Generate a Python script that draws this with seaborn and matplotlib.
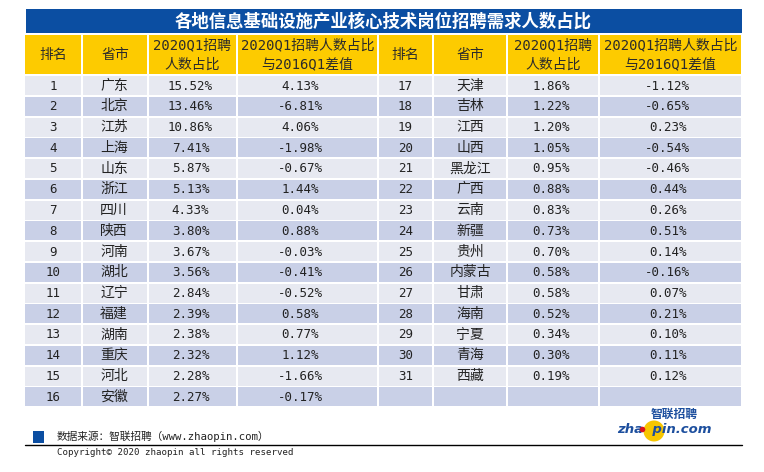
import matplotlib
matplotlib.use("Agg")
import matplotlib.pyplot as plt
from matplotlib.patches import Rectangle, Circle
import seaborn as sns

sns.set_theme(style="white")
plt.rcParams['font.family'] = ['DejaVu Sans', 'Noto Sans CJK SC']

# ---------------- data ----------------
title = "各地信息基础设施产业核心技术岗位招聘需求人数占比"
headers = ["排名", "省市", "2020Q1招聘\n人数占比", "2020Q1招聘人数占比\n与2016Q1差值"]
ranks = list(range(1, 32))
provinces = ["广东", "北京", "江苏", "上海", "山东", "浙江", "四川", "陕西", "河南", "湖北",
             "辽宁", "福建", "湖南", "重庆", "河北", "安徽",
             "天津", "吉林", "江西", "山西", "黑龙江", "广西", "云南", "新疆", "贵州", "内蒙古",
             "甘肃", "海南", "宁夏", "青海", "西藏"]
share_2020q1 = [15.52, 13.46, 10.86, 7.41, 5.87, 5.13, 4.33, 3.80, 3.67, 3.56,
                2.84, 2.39, 2.38, 2.32, 2.28, 2.27,
                1.86, 1.22, 1.20, 1.05, 0.95, 0.88, 0.83, 0.73, 0.70, 0.58,
                0.58, 0.52, 0.34, 0.30, 0.19]
diff_vs_2016q1 = [4.13, -6.81, 4.06, -1.98, -0.67, 1.44, 0.04, 0.88, -0.03, -0.41,
                  -0.52, 0.58, 0.77, 1.12, -1.66, -0.17,
                  -1.12, -0.65, 0.23, -0.54, -0.46, 0.44, 0.26, 0.51, 0.14, -0.16,
                  0.07, 0.21, 0.10, 0.11, 0.12]
source_text = "数据来源：智联招聘（www.zhaopin.com）"
copyright_text = "Copyright© 2020 zhaopin all rights reserved"

# ---------------- layout ----------------
W, H = 764, 472
BLUE = "#0b4ea2"
YELLOW = "#fdcb00"
ROW_LIGHT = "#e7e9f1"
ROW_DARK = "#c9d0e7"
TXT = "#222222"
NUMFONT = ['DejaVu Sans Mono', 'Noto Sans CJK SC']
CJKFONT = ['Noto Sans CJK SC', 'DejaVu Sans']

col_edges_left = [(25, 81), (83, 147), (149, 236), (238, 377)]
col_edges_right = [(379, 432), (434, 506), (508, 598), (600, 741)]
text_shift_left = [0, -1, -2, -7]
text_shift_right = [0, 0, -2, -3]
rows_per_side = 16
body_top, row_pitch, row_h = 76, 20.75, 19.0
header_top, header_bot = 35, 74

fig = plt.figure(figsize=(W / 100, H / 100), dpi=100)
ax = fig.add_axes([0, 0, 1, 1])
ax.set_xlim(0, W)
ax.set_ylim(H, 0)
ax.axis("off")

# title bar
ax.add_patch(Rectangle((26, 9), 742 - 26, 24, color=BLUE, lw=0))
ax.text(383, 21.5, title, color="white", fontsize=12.5, fontweight="bold",
        ha="center", va="center", family=CJKFONT)

# header rows
for edges in (col_edges_left, col_edges_right):
    for (x0, x1), htxt in zip(edges, headers):
        ax.add_patch(Rectangle((x0, header_top), x1 - x0, header_bot - header_top,
                               color=YELLOW, lw=0))
        ax.text((x0 + x1) / 2, (header_top + header_bot) / 2 + 0.5, htxt, color="#2b2b2b",
                fontsize=10, ha="center", va="center", family=NUMFONT, linespacing=1.45)

# body rows
def fmt_pct(v):
    return f"{v:.2f}%"

for side, (edges, shifts) in enumerate(((col_edges_left, text_shift_left),
                                        (col_edges_right, text_shift_right))):
    for r in range(rows_per_side):
        idx = side * rows_per_side + r
        y0 = body_top + r * row_pitch
        color = ROW_LIGHT if r % 2 == 0 else ROW_DARK
        for (x0, x1) in edges:
            ax.add_patch(Rectangle((x0, y0), x1 - x0, row_h, color=color, lw=0))
        if idx >= len(provinces):
            continue
        yc = y0 + row_h / 2
        cells = [str(ranks[idx]), provinces[idx], fmt_pct(share_2020q1[idx]),
                 fmt_pct(diff_vs_2016q1[idx])]
        for ci, ((x0, x1), txt, sh) in enumerate(zip(edges, cells, shifts)):
            if ci == 1:
                ax.text((x0 + x1) / 2 + sh, yc, txt, color=TXT, fontsize=10,
                        ha="center", va="center", family=CJKFONT)
            else:
                ax.text((x0 + x1) / 2 + sh, yc + 0.5, txt, color=TXT,
                        fontsize=9, ha="center", va="center", family=NUMFONT)

# footer
ax.add_patch(Rectangle((33, 431), 11, 12, color=BLUE, lw=0))
ax.text(57, 436.5, source_text, color=TXT, fontsize=7.7, ha="left", va="center",
        family=NUMFONT)
ax.plot([25, 742], [445, 445], color="black", lw=1)
ax.text(57, 452.5, copyright_text, color=TXT, fontsize=6.6, ha="left", va="center",
        family=NUMFONT)

# logo
ax.add_patch(Circle((654, 431), 10.5, color="#f7c600", lw=0, zorder=3))
ax.add_patch(Circle((642.5, 429.5), 2.8, color="#d8141c", lw=0, zorder=5))
ax.text(617, 430, "zha  pin.com", color="#1d4f9e", fontsize=9.5, fontweight="bold",
        style="italic", ha="left", va="center", family=['DejaVu Sans'], zorder=4)
ax.text(651, 414.5, "智联招聘", color="#1d4f9e", fontsize=8.5, fontweight="bold",
        style="italic", ha="left", va="center", family=CJKFONT, zorder=4)

fig.savefig("out.png", dpi=100)
